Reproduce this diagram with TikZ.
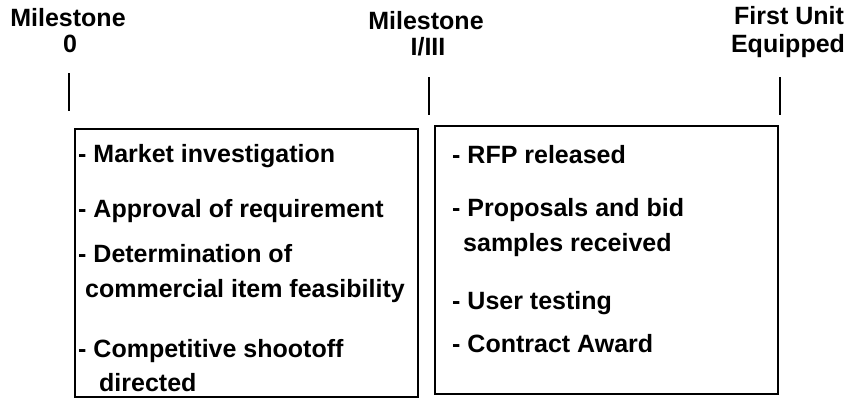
\documentclass[tikz,border=0pt]{standalone}
\usepackage{fontspec}
\setmainfont{Liberation Sans}
\usepackage{tikz}

\begin{document}
\begin{tikzpicture}[x=1pt,y=-1pt,
    titre/.style={anchor=base,inner sep=0pt,font=\fontsize{25}{30}\selectfont\bfseries},
    tache/.style={anchor=base west,inner sep=0pt,font=\fontsize{25}{30}\selectfont\bfseries},
    cadre/.style={draw,line width=2.8pt},
    trait/.style={line width=2.8pt}]
      \useasboundingbox (0,0) rectangle (851,400);

      %Jalons
      \node[titre] (Milestone0) at (68,26) {Milestone};
      \node[titre] (Zero) at (70,52) {0};
      \node[titre] (MilestoneI) at (426,29) {Milestone};
      \node[titre] (UnTrois) at (428,55) {I/III};
      \node[titre] (FirstUnit) at (789,24) {First Unit};
      \node[titre] (Equipped) at (788,52) {Equipped};

      %Traits
      \coordinate (Haut0) at (69,73);
      \coordinate (Bas0) at (69,111);
      \coordinate (HautI) at (429,77);
      \coordinate (BasI) at (429,115);
      \coordinate (HautF) at (780,77);
      \coordinate (BasF) at (780,115);
      \draw[trait] (Haut0) -- (Bas0);
      \draw[trait] (HautI) -- (BasI);
      \draw[trait] (HautF) -- (BasF);

      %Cadres
      \draw[cadre] (75,129) rectangle (418,397);
      \draw[cadre] (435,126) rectangle (778,394);

      %Avant le jalon I/III
      \node[tache] (Market) at (78,162) {- Market investigation};
      \node[tache] (Approval) at (78,217) {- Approval of requirement};
      \node[tache] (Determination) at (78,262) {- Determination of};
      \node[tache] (Commercial) at (85,297) {commercial item feasibility};
      \node[tache] (Shootoff) at (78,357) {- Competitive shootoff};
      \node[tache] (Directed) at (99,391) {directed};

      %Apres le jalon I/III
      \node[tache] (RFP) at (452,163) {- RFP released};
      \node[tache] (Proposals) at (452,216) {- Proposals and bid};
      \node[tache] (Samples) at (463,251) {samples received};
      \node[tache] (Testing) at (452,309) {- User testing};
      \node[tache] (Award) at (452,352) {- Contract Award};
\end{tikzpicture}
\end{document}
